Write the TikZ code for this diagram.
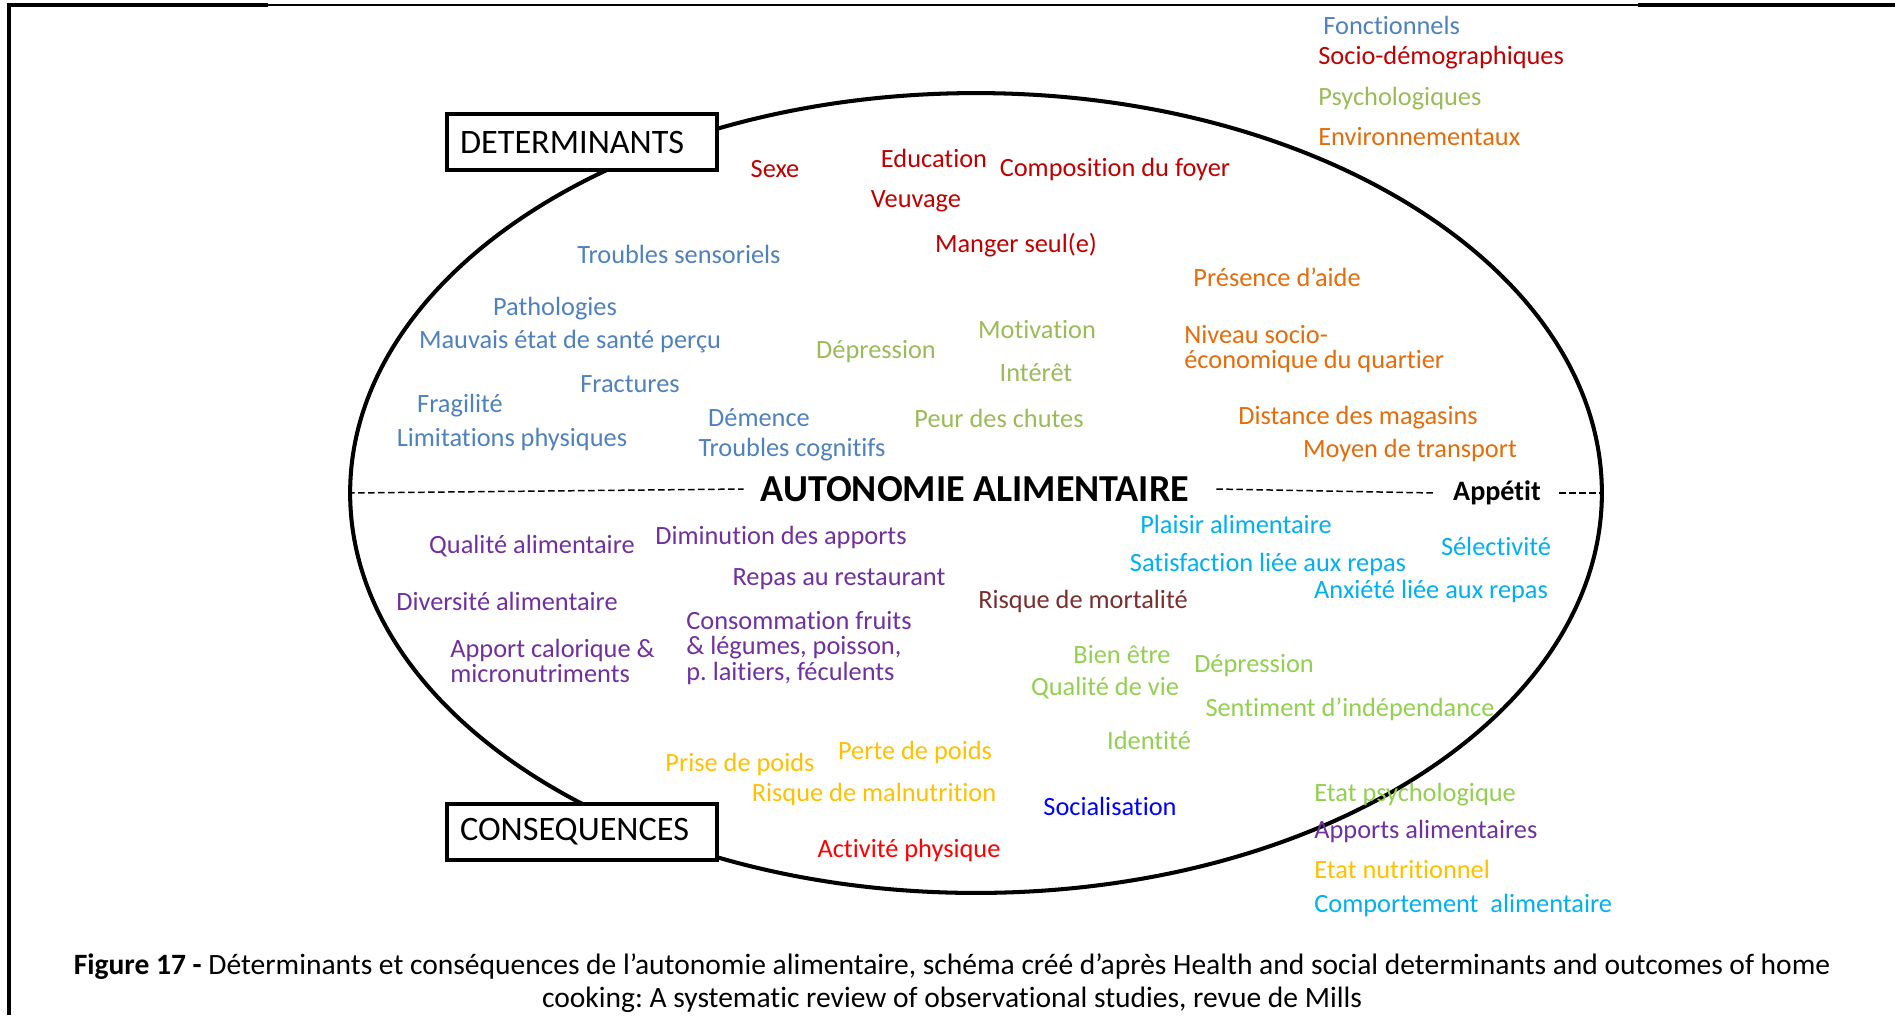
\documentclass[tikz,border=0pt]{standalone}
\usepackage{fontspec}
\setmainfont{Carlito}[Ligatures=NoCommon]
\usetikzlibrary{shapes.geometric}
\definecolor{cFonc}{HTML}{4F81BD}
\definecolor{cSocio}{HTML}{C00000}
\definecolor{cPsycho}{HTML}{9BBB59}
\definecolor{cEnvir}{HTML}{E46C0A}
\definecolor{cApports}{HTML}{7030A0}
\definecolor{cComport}{HTML}{00B0F0}
\definecolor{cEtatPsy}{HTML}{92D050}
\definecolor{cNutri}{HTML}{FFC000}
\definecolor{cMortal}{HTML}{7A2E2E}
\definecolor{cSocial}{HTML}{0000FF}
\definecolor{cActiv}{HTML}{FF0000}
\frenchspacing

\begin{document}
\begin{tikzpicture}[x=0.02cm,y=-0.02cm]
    \tikzstyle{every node}=[inner sep=0pt,font=\fontsize{15}{14.5}\selectfont];
    \tikzstyle{fonctionnel}=[text=cFonc];
    \tikzstyle{sociodemo}=[text=cSocio];
    \tikzstyle{psycho}=[text=cPsycho];
    \tikzstyle{envir}=[text=cEnvir];
    \tikzstyle{apports}=[text=cApports];
    \tikzstyle{comport}=[text=cComport];
    \tikzstyle{etatpsy}=[text=cEtatPsy];
    \tikzstyle{nutri}=[text=cNutri];
    \tikzstyle{gauche}=[anchor=west,align=left];
    \tikzstyle{cadre}=[draw,fill=white,line width=2pt,text width=4.88cm,inner xsep=0.26cm,align=left,minimum height=1.12cm,font=\fontsize{19.5}{22}\selectfont];
    \tikzstyle{tirets}=[line width=0.85pt,dash pattern=on 0.13cm off 0.07cm];
    \useasboundingbox (0, 0) rectangle (1895, 1015);

    \draw[line width=0.75pt] (268, 5) -- (1638, 5);
    \draw[line width=2pt] (9, 1015) -- (9, 5) -- (268, 5);
    \draw[line width=2pt] (1638, 5) -- (1895, 5);

    \node at (976, 493) (oval) [draw,ellipse,line width=2.3pt,minimum width=25.04cm,minimum height=16cm] {};

    \node at (1323, 25)  (fonc)   [gauche,fonctionnel] {Fonctionnels};
    \node at (1318, 58)  (socio)  [gauche,sociodemo] {Socio-démographiques};
    \node at (1318, 99)  (psy)    [gauche,psycho] {Psychologiques};
    \node at (1318, 137) (envir)  [gauche,envir] {Environnementaux};

    \node at (775, 169)  (sexe)   [sociodemo] {Sexe};
    \node at (934, 158)  (educ)   [sociodemo] {Education};
    \node at (1115, 169) (foyer)  [sociodemo] {Composition du foyer};
    \node at (916, 201)  (veuv)   [sociodemo] {Veuvage};
    \node at (1016, 245) (seul)   [sociodemo] {Manger seul(e)};
    \node at (679, 254)  (sens)   [fonctionnel] {Troubles sensoriels};
    \node at (1277, 277) (aide)   [envir] {Présence d’aide};
    \node at (555, 309)  (patho)  [fonctionnel] {Pathologies};
    \node at (570, 342)  (sante)  [fonctionnel] {Mauvais état de santé perçu};
    \node at (876, 352)  (depr)   [psycho] {Dépression};
    \node at (1037, 330) (motiv)  [psycho] {Motivation};
    \node at (1036, 373) (inter)  [psycho] {Intérêt};
    \node at (1184, 349) (niveau) [gauche,envir] {Niveau socio-\\économique du quartier};
    \node at (630, 384)  (fract)  [fonctionnel] {Fractures};
    \node at (460, 406)  (fragil) [fonctionnel] {Fragilité};
    \node at (512, 439)  (limit)  [fonctionnel] {Limitations physiques};
    \node at (759, 418)  (dem)    [fonctionnel] {Démence};
    \node at (792, 450)  (cogn)   [fonctionnel] {Troubles cognitifs};
    \node at (999, 418)  (chute)  [psycho] {Peur des chutes};
    \node at (1358, 418) (dist)   [envir] {Distance des magasins};
    \node at (1410, 450) (transp) [envir] {Moyen de transport};

    \node at (975, 489)  (auto)   [inner xsep=0.34cm,font=\fontsize{21.7}{25}\selectfont\bfseries] {AUTONOMIE ALIMENTAIRE};
    \node at (1497, 493) (appet)  [inner xsep=0.36cm,font=\fontsize{16}{19}\selectfont\bfseries] {Appétit};

    \node at (532, 546)  (qual)   [apports] {Qualité alimentaire};
    \node at (781, 537)  (dimin)  [apports] {Diminution des apports};
    \node at (839, 579)  (resto)  [apports] {Repas au restaurant};
    \node at (507, 601)  (divers) [apports] {Diversité alimentaire};
    \node at (686, 648)  (conso)  [gauche,apports] {Consommation fruits\\\& légumes, poisson,\\p. laitiers, féculents};
    \node at (450, 661)  (calor)  [gauche,apports] {Apport calorique \&\\micronutriments};
    \node at (1083, 601) (mort)   [text=cMortal] {Risque de mortalité};
    \node at (1236, 524) (plais)  [comport] {Plaisir alimentaire};
    \node at (1268, 564) (satis)  [comport] {Satisfaction liée aux repas};
    \node at (1496, 546) (select) [comport] {Sélectivité};
    \node at (1431, 591) (anx)    [comport] {Anxiété liée aux repas};
    \node at (1122, 655) (bien)   [etatpsy] {Bien être};
    \node at (1105, 688) (vie)    [etatpsy] {Qualité de vie};
    \node at (1254, 666) (depr2)  [etatpsy] {Dépression};
    \node at (1350, 709) (indep)  [etatpsy] {Sentiment d’indépendance};
    \node at (1149, 740) (ident)  [etatpsy] {Identité};
    \node at (740, 764)  (prise)  [nutri] {Prise de poids};
    \node at (915, 752)  (perte)  [nutri] {Perte de poids};
    \node at (874, 794)  (malnut) [nutri] {Risque de malnutrition};
    \node at (1110, 806) (social) [text=cSocial] {Socialisation};
    \node at (909, 850)  (activ)  [text=cActiv] {Activité physique};

    \node at (1314, 795) (etpsy)  [gauche,etatpsy] {Etat psychologique};
    \node at (1314, 831) (etapp)  [gauche,apports] {Apports alimentaires};
    \node at (1314, 869) (etnut)  [gauche,nutri] {Etat nutritionnel};
    \node at (1314, 905) (etcomp) [gauche,comport] {Comportement\ \ alimentaire};

    \node at (582, 142)  (determ) [cadre] {DETERMINANTS};
    \node at (582, 832)  (conseq) [cadre] {CONSEQUENCES};

    \draw[tirets] (oval.west) -- (auto.west);
    \draw[tirets] ([xshift=0.2cm]auto.east) -- (appet.west);
    \draw[tirets] (appet.east) -- (oval.east);

    \node at (952, 983) (legende) [align=center,font=\fontsize{16.8}{18.5}\selectfont] {\textbf{Figure 17 -} Déterminants et conséquences de l’autonomie alimentaire, schéma créé d’après Health and social determinants and outcomes of home\\cooking: A systematic review of observational studies, revue de Mills};
\end{tikzpicture}
\end{document}
